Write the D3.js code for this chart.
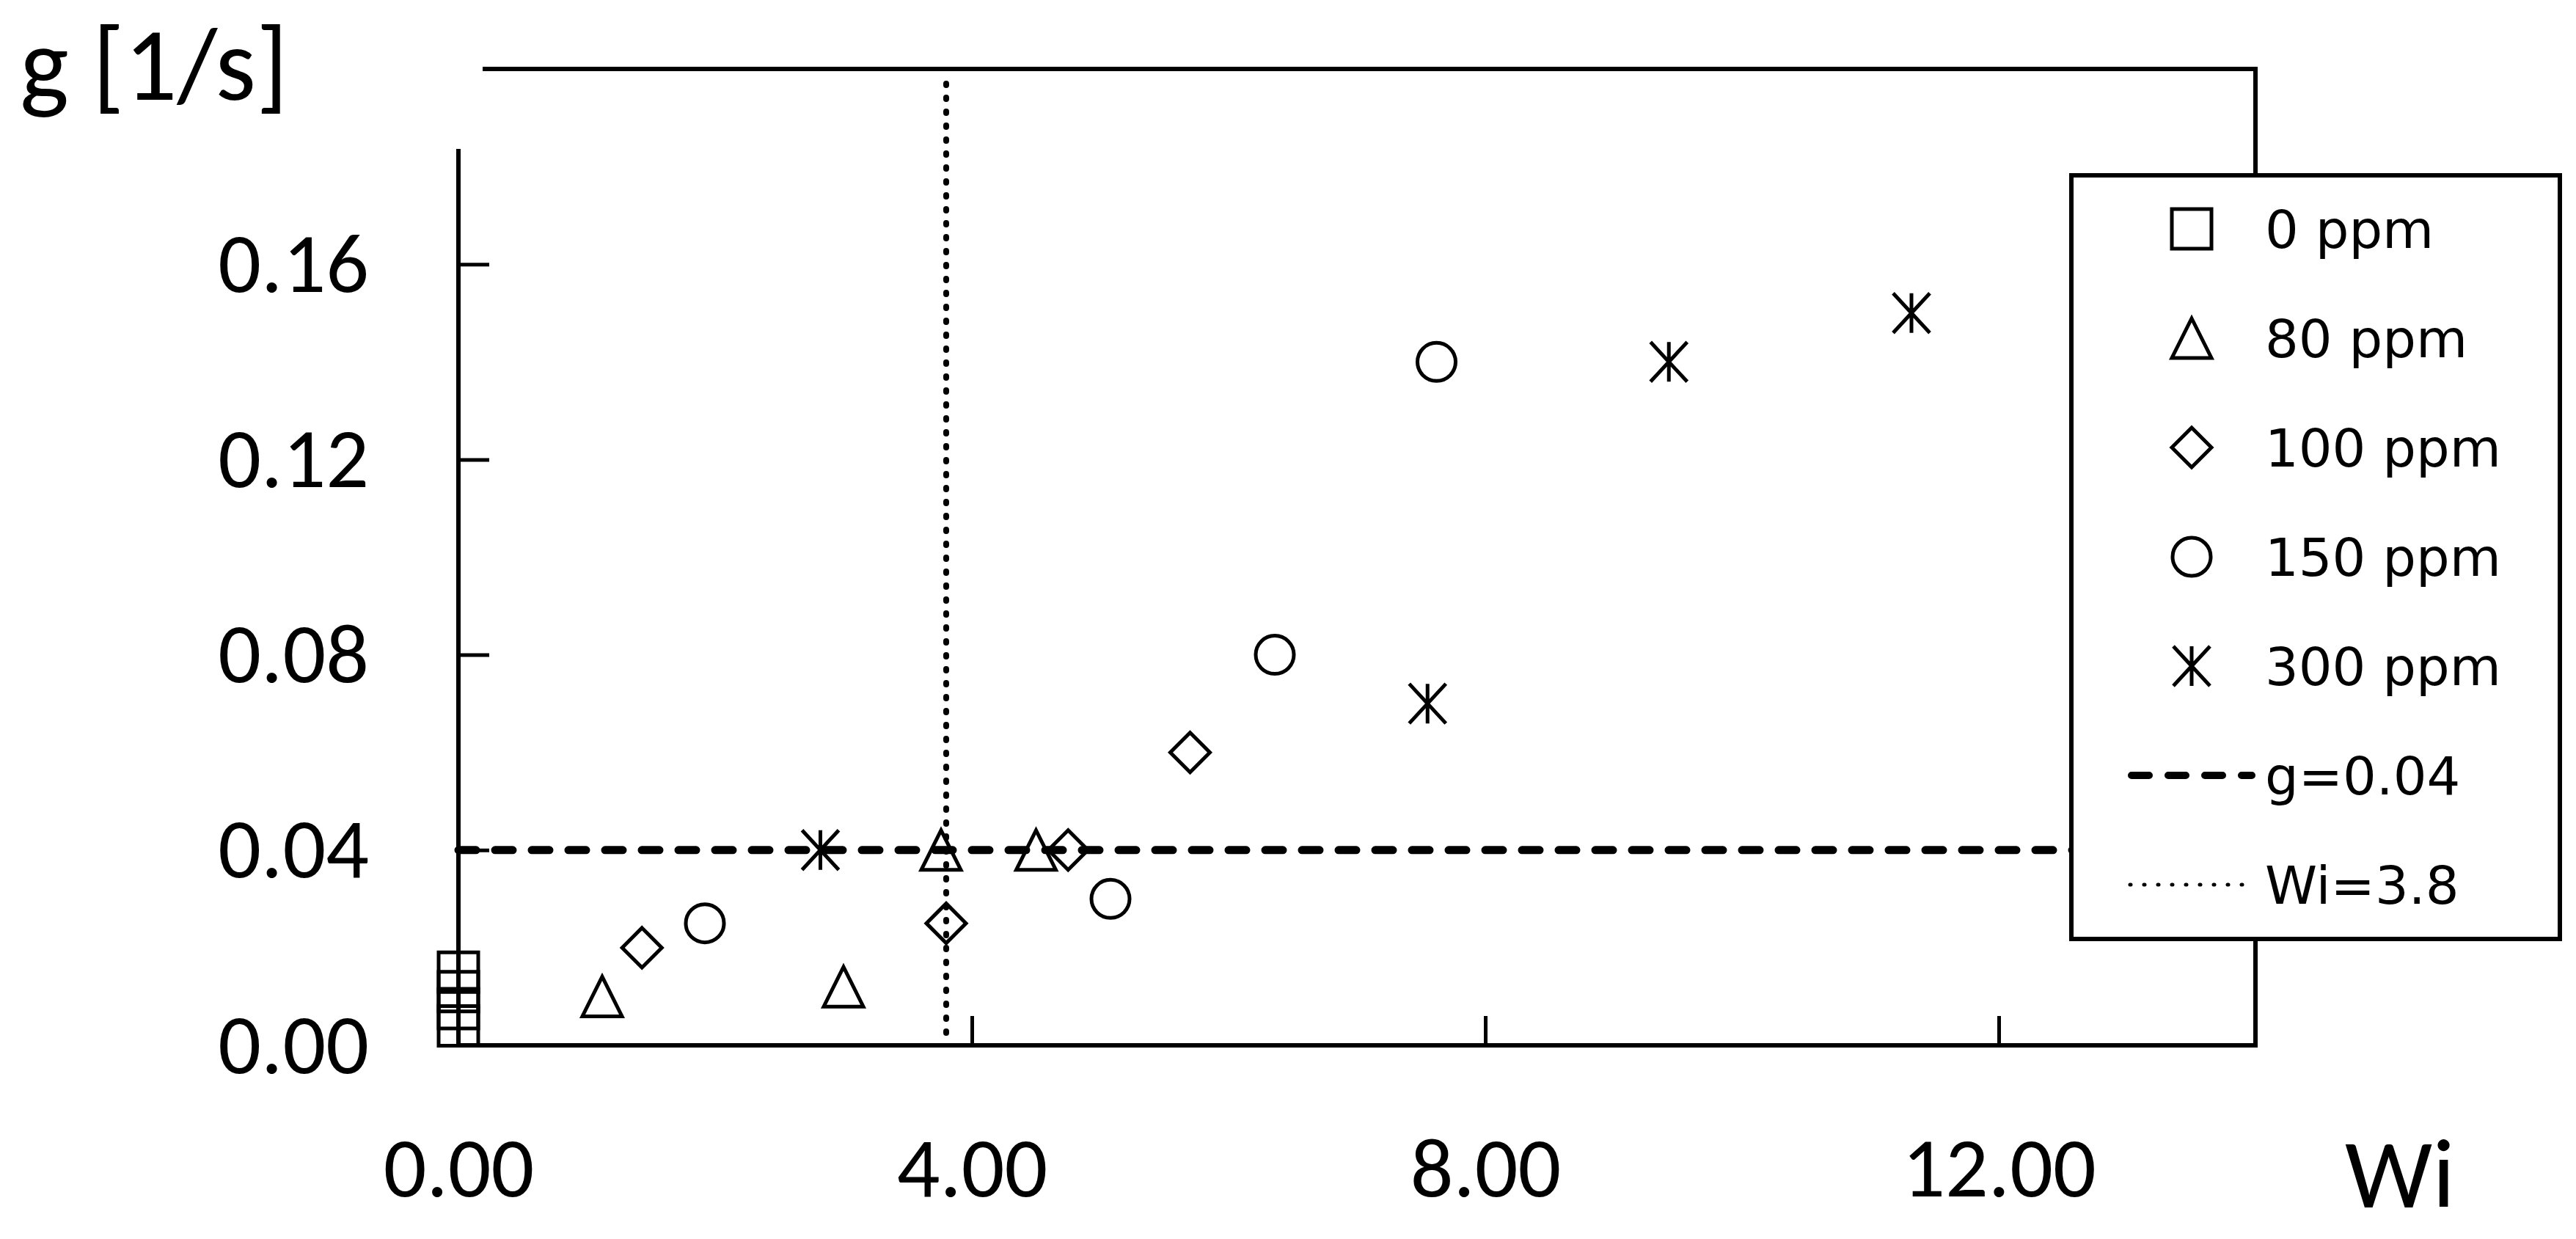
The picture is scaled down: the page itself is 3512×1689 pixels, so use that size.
<!DOCTYPE html>
<html>
<head>
<meta charset="utf-8">
<script src="https://cdn.jsdelivr.net/npm/d3@7"></script>
<style>
  body { margin: 0; background: #fff; }
  text { font-family: Carlito, Lato, sans-serif; fill: #000; }
</style>
</head>
<body>
<div id="chart-area"></div>
<script>
// series names, one marker shape per series
const seriesNames = ["0 ppm", "80 ppm", "100 ppm", "150 ppm", "300 ppm"]
const shapes = ["square", "triangle", "diamond", "circle", "asterisk"]

// Wi (x) and g (y)
const wi0 = [0, 0, 0, 0]
const g0 = [0.004, 0.0075, 0.011, 0.015]
const wi80 = [1.12, 3.0, 3.76, 4.5]
const g80 = [0.01, 0.012, 0.04, 0.04]
const wi100 = [1.43, 3.8, 4.75, 5.7]
const g100 = [0.02, 0.025, 0.04, 0.06]
const wi150 = [1.92, 5.08, 6.36, 7.62]
const g150 = [0.025, 0.03, 0.08, 0.14]
const wi300 = [2.82, 7.55, 9.43, 11.32]
const g300 = [0.04, 0.07, 0.14, 0.15]

const xTicks = [0, 4, 8, 12]
const yTicks = [0, 0.04, 0.08, 0.12, 0.16]
const gLimit = 0.04
const wiLimit = 3.8

const W = 3512, H = 1689
const plotLeft = 625, plotRight = 3075, plotTop = 94, plotBottom = 1425

let svg = d3.select("#chart-area").append("svg")
  .attr("width", W)
  .attr("height", H)

let x = d3.scaleLinear().domain([0, 14]).range([plotLeft, plotRight])
let y = d3.scaleLinear().domain([0, 0.2]).range([plotBottom, plotTop])

// frame
svg.append("rect")
  .attr("x", plotLeft).attr("y", plotTop)
  .attr("width", plotRight - plotLeft).attr("height", plotBottom - plotTop)
  .attr("fill", "none").attr("stroke", "#000").attr("stroke-width", 6)

// axes with inward ticks
let yAxis = d3.axisLeft(y).tickValues(yTicks).tickFormat(d3.format(".2f"))
  .tickSizeInner(-42).tickSizeOuter(0).tickPadding(122)
let xAxis = d3.axisBottom(x).tickValues(xTicks).tickFormat(d3.format(".2f"))
  .tickSizeInner(-40).tickSizeOuter(0).tickPadding(124)

let gy = svg.append("g").attr("transform", `translate(${plotLeft},0)`).call(yAxis)
let gx = svg.append("g").attr("transform", `translate(0,${plotBottom})`).call(xAxis)
;[gx, gy].forEach(g => {
  g.select(".domain").remove()
  g.selectAll(".tick line").attr("stroke", "#000").attr("stroke-width", 5)
  g.selectAll(".tick text")
    .attr("font-family", "Carlito, Lato, sans-serif")
    .attr("font-size", 116)
    .attr("fill", "#000")
})

// reference lines
svg.append("line")
  .attr("x1", x(0)).attr("x2", x(14))
  .attr("y1", y(gLimit)).attr("y2", y(gLimit))
  .attr("stroke", "#000").attr("stroke-width", 11)
  .attr("stroke-dasharray", "24 26").attr("stroke-linecap", "round")

svg.append("line")
  .attr("x1", x(wiLimit)).attr("x2", x(wiLimit))
  .attr("y1", y(0.197)).attr("y2", y(0.002))
  .attr("stroke", "#000").attr("stroke-width", 8)
  .attr("stroke-dasharray", "2 17").attr("stroke-linecap", "round")

// marker shapes
const S = 27
function shapePath(kind) {
  let p = d3.path()
  if (kind == "square") {
    p.rect(-S, -S, 2 * S, 2 * S)
  } else if (kind == "triangle") {
    p.moveTo(0, -S); p.lineTo(S, S); p.lineTo(-S, S); p.closePath()
  } else if (kind == "diamond") {
    p.moveTo(0, -S); p.lineTo(S, 0); p.lineTo(0, S); p.lineTo(-S, 0); p.closePath()
  } else if (kind == "circle") {
    p.arc(0, 0, S - 1, 0, 2 * Math.PI)
  } else {
    p.moveTo(0, -S); p.lineTo(0, S)
    p.moveTo(-S + 2, -S); p.lineTo(S - 2, S)
    p.moveTo(S - 2, -S); p.lineTo(-S + 2, S)
  }
  return p.toString()
}

let allWi = [wi0, wi80, wi100, wi150, wi300]
let allG = [g0, g80, g100, g150, g300]
let points = []
seriesNames.forEach((name, i) => {
  allWi[i].forEach((w, j) => {
    points.push({ wi: w, g: allG[i][j], shape: shapes[i] })
  })
})

svg.selectAll("path.pt")
  .data(points)
  .enter()
  .append("path")
    .attr("class", "pt")
    .attr("transform", d => `translate(${x(d.wi)},${y(d.g)})`)
    .attr("d", d => shapePath(d.shape))
    .attr("fill", "none")
    .attr("stroke", "#000")
    .attr("stroke-width", 5)

// white box behind the y label (hides the frame corner, as in the original)
svg.append("rect")
  .attr("x", 0).attr("y", 0).attr("width", 658).attr("height", 203)
  .attr("fill", "#fff")

svg.append("text")
  .attr("x", 27).attr("y", 136)
  .attr("font-size", 142)
  .text("g [1/s]")

svg.append("text")
  .attr("x", 3197).attr("y", 1646)
  .attr("font-size", 134)
  .text("Wi")

// legend
let lg = svg.append("g")
lg.append("rect")
  .attr("x", 2824).attr("y", 239).attr("width", 666).attr("height", 1041)
  .attr("fill", "#fff").attr("stroke", "#000").attr("stroke-width", 6)

const rowY = d3.range(7).map(i => 312 + i * 149)
const legendLabels = seriesNames.concat(["g=0.04", "Wi=3.8"])

seriesNames.forEach((name, i) => {
  lg.append("path")
    .attr("transform", `translate(2988,${rowY[i]})`)
    .attr("d", shapePath(shapes[i]))
    .attr("fill", "none").attr("stroke", "#000").attr("stroke-width", 5)
})

lg.append("line")
  .attr("x1", 2906).attr("x2", 3070)
  .attr("y1", rowY[5]).attr("y2", rowY[5])
  .attr("stroke", "#000").attr("stroke-width", 10)
  .attr("stroke-dasharray", "24 26").attr("stroke-linecap", "round")

lg.append("line")
  .attr("x1", 2904).attr("x2", 3058)
  .attr("y1", rowY[6]).attr("y2", rowY[6])
  .attr("stroke", "#000").attr("stroke-width", 5)
  .attr("stroke-dasharray", "1 18").attr("stroke-linecap", "round")

lg.selectAll("text.lab")
  .data(legendLabels)
  .enter()
  .append("text")
    .attr("class", "lab")
    .attr("x", 3088)
    .attr("y", (d, i) => rowY[i])
    .attr("dy", "0.36em")
    .style("font-family", "'DejaVu Sans', sans-serif")
    .attr("font-size", 72)
    .text(d => d)
</script>
</body>
</html>
